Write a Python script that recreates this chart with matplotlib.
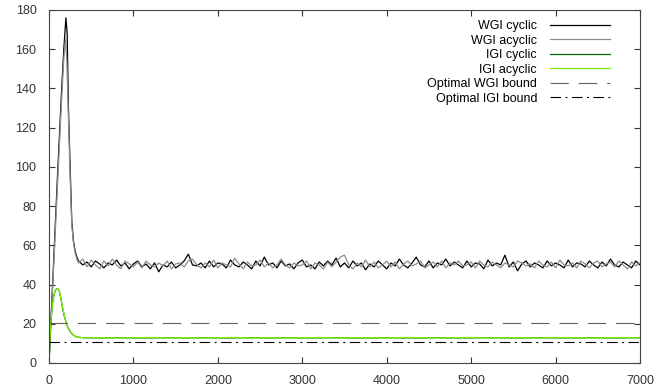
import numpy as np
import matplotlib.pyplot as plt

plt.rcParams["font.family"] = ["Liberation Sans", "DejaVu Sans"]

wgi_cyc_x0 = [0, 25, 50, 75, 100, 125, 150, 175, 200, 215, 230, 250, 270, 290, 310, 330]
wgi_cyc_y0 = [0, 24, 48, 72, 95, 118, 140, 160, 176, 168, 130, 100, 72, 62, 57, 54]
wgi_acy_x0 = [0, 25, 50, 75, 100, 125, 150, 175, 195, 210, 230, 250, 270, 290, 310, 330]
wgi_acy_y0 = [0, 22, 45, 68, 91, 113, 135, 155, 165, 155, 125, 95, 70, 61, 56, 53]

# steady part, every 50 from 350 to 7000
steady_x = np.arange(350, 7001, 50)
wgi_cyc_y1 = [
    52, 50, 51.5, 49, 52, 50.5, 48.5, 51, 50, 52.5,
    49.5, 51, 48, 50.5, 52, 49, 50.5, 48, 51, 46.5,
    50, 49, 51.5, 48.5, 50, 52, 55.5, 50, 49.5, 51,
    48.5, 52, 49, 51, 50.5, 48.5, 52.5, 50, 49, 51.5,
    50, 48, 52, 49.5, 54, 50, 51, 48.5, 52, 49.5,
    50.5, 48, 51, 52.5, 49, 50, 48, 51.5, 49.5, 52,
    50, 53.5, 49, 51, 48.5, 52, 49.5, 51, 47.5, 50.5,
    49, 52, 50, 48, 51, 49.5, 53, 50, 48.5, 51,
    54, 50, 49, 52, 48.5, 51, 50, 53, 49.5, 51.5,
    50, 48.5, 52, 49, 51, 50.5, 48, 52.5, 49.5, 51,
    50, 55, 49, 51.5, 47, 50.5, 52, 49, 51, 50,
    48.5, 52, 49.5, 51, 50, 48.5, 52.5, 49, 51, 50.5,
    49, 52, 50, 48.5, 51.5, 49.5, 53, 50, 49, 51.5,
    50, 48.5, 52, 50,
]
wgi_acy_y1 = [
    51, 53, 49, 52.5, 50, 48, 52, 49.5, 53, 50,
    48, 52, 50.5, 49, 51.5, 48.5, 52, 50, 49, 51,
    49.5, 52, 48, 50.5, 51, 49, 52, 53, 50, 48.5,
    51, 49, 52.5, 48.5, 51, 50, 49, 53.5, 50.5, 48,
    51.5, 49.5, 50, 52.5, 49, 51, 48.5, 50, 53, 50,
    48.5, 51, 49.5, 50, 52, 48, 51, 50, 48, 51.5,
    49, 51.5, 54, 55, 50, 48, 51, 49, 52.5, 49,
    51.5, 48.5, 50, 52, 49, 51.5, 48, 50.5, 52, 49.5,
    50.5, 52, 48.5, 50, 51.5, 49, 52, 48.5, 51, 50,
    52, 49.5, 50, 51.5, 48.5, 52, 50, 49, 51.5, 50,
    48.5, 51, 50, 49, 52, 51, 49.5, 50.5, 48.5, 52,
    50, 49, 51.5, 48.5, 52.5, 50, 49.5, 51, 48.5, 52,
    50.5, 48.5, 51, 52, 49, 50.5, 51.5, 49, 52, 50,
    48, 51.5, 49.5, 51,
]

# ── IGI ───────────────────────────────────────────────────────────
igi_x0 = [0, 10, 20, 40, 60, 80, 100, 120, 140, 160, 180, 200, 220, 250, 280, 310, 350]
igi_cyc_y0 = [0, 12, 20, 30, 35, 37.5, 38, 37, 33, 28, 24, 21, 18.5, 16, 14.5, 13.6, 13.1]
igi_acy_y0 = [0, 12, 20, 30, 35, 37.5, 38, 37, 33, 28.5, 24.5, 21, 18.5, 16, 14.5, 13.6, 13.1]
igi_x1 = np.arange(400, 7001, 200)
igi_cyc_y1 = [12.9, 12.8, 12.9, 12.8, 12.8, 12.9, 12.8, 12.9, 12.8, 12.8,
              12.9, 12.8, 12.9, 12.8, 12.8, 12.9, 12.8, 12.8, 12.9, 12.8,
              12.8, 12.9, 12.8, 12.8, 12.9, 12.8, 12.8, 12.9, 12.8, 12.8,
              12.9, 12.8, 12.8, 12.9]
igi_acy_y1 = [12.9, 12.9, 12.8, 12.9, 13.0, 12.8, 12.9, 12.8, 12.9, 13.0,
              12.8, 12.9, 12.8, 12.9, 13.0, 12.8, 12.9, 12.9, 12.8, 13.0,
              12.9, 12.8, 12.9, 13.0, 12.8, 12.9, 12.9, 12.8, 13.0, 12.9,
              12.8, 12.9, 13.0, 12.8]

wgi_bound = 20.5
igi_bound = 10.5

fig = plt.figure(figsize=(6.67, 3.92), dpi=100)
ax = fig.add_axes([0.0735, 0.074, 0.886, 0.9005])

ax.plot(np.r_[wgi_cyc_x0, steady_x], np.r_[wgi_cyc_y0, wgi_cyc_y1],
        color="black", lw=0.9, label="WGI cyclic")
ax.plot(np.r_[wgi_acy_x0, steady_x], np.r_[wgi_acy_y0, wgi_acy_y1],
        color="#8c8c8c", lw=0.9, label="WGI acyclic")
ax.plot(np.r_[igi_x0, igi_x1], np.r_[igi_cyc_y0, igi_cyc_y1],
        color="#006400", lw=0.9, label="IGI cyclic")
ax.plot(np.r_[igi_x0, igi_x1], np.r_[igi_acy_y0, igi_acy_y1],
        color="#7cf000", lw=0.9, label="IGI acyclic")
ax.axhline(wgi_bound, color="#606060", lw=0.8, dashes=(16.5, 9),
           label="Optimal WGI bound")
ax.axhline(igi_bound, color="black", lw=0.8, dashes=(9.5, 4, 1.8, 4),
           label="Optimal IGI bound")

ax.set_xlim(0, 7000)
ax.set_ylim(0, 180)
ax.set_xticks(range(0, 7001, 1000))
ax.set_yticks(range(0, 181, 20))
ax.tick_params(direction="in", top=True, right=True, length=4, width=0.8,
               labelsize=9, colors="#333333")
ax.tick_params(axis="y", pad=9)
ax.tick_params(axis="x", pad=9)
for s in ax.spines.values():
    s.set_color("#444444")
    s.set_linewidth(0.8)

ax.legend(loc="upper right", bbox_to_anchor=(0.957, 0.985), frameon=False,
          markerfirst=False, fontsize=9, handlelength=4.8,
          labelspacing=0.2, handletextpad=1.0, borderaxespad=0)

fig.savefig("out.png", dpi=100)
